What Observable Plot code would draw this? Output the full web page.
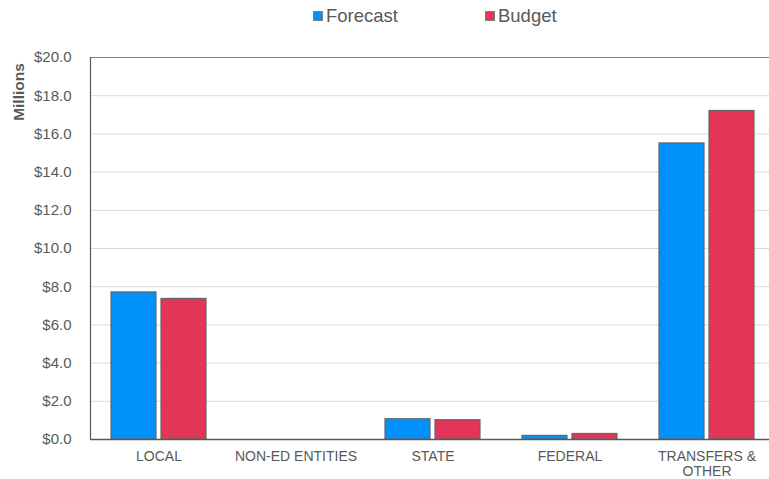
<!DOCTYPE html>
<html>
<head>
<meta charset="utf-8">
<script src="https://cdn.jsdelivr.net/npm/d3@7"></script>
<script src="https://cdn.jsdelivr.net/npm/@observablehq/plot@0.6"></script>
<style>
  body { margin: 0; background: #fff; font-family: "Liberation Sans", Arial, sans-serif; overflow: hidden; }
  #wrap { position: relative; width: 769px; height: 479px; overflow: hidden; }
  #legend { position: absolute; left: 313px; top: 5px; height: 22px; display: flex; align-items: center; font-size: 18.5px; color: #595959; }
  .item { display: flex; align-items: center; }
  .sw { width: 10px; height: 10px; margin-right: 3px; border: 1px solid #7f7f7f; box-sizing: border-box; }
  #ylabel { position: absolute; left: 19px; top: 92px; transform: translate(-50%, -50%) rotate(-90deg); font-size: 15.5px; font-weight: bold; color: #595959; white-space: nowrap; z-index: 2; }
  #chart { position: absolute; left: 0; top: 32px; width: 775px; z-index: 1; }
  #chart svg { max-width: none !important; }
</style>
</head>
<body>
<div id="wrap">
  <div id="legend"></div>
  <div id="chart"></div>
  <div id="ylabel">Millions</div>
</div>
<script>
const categories = ["LOCAL", "NON-ED ENTITIES", "STATE", "FEDERAL", "TRANSFERS & OTHER"];
const categoryLabels = ["LOCAL", "NON-ED ENTITIES", "STATE", "FEDERAL", "TRANSFERS &\nOTHER"];
const series = ["Forecast", "Budget"];
const forecast = [7.70, 0, 1.06, 0.19, 15.5];
const budget = [7.36, 0, 1.01, 0.29, 17.2];
const colors = ["#0091FA", "#E23658"];
const yTicks = [0, 2, 4, 6, 8, 10, 12, 14, 16, 18, 20];

const data = [];
categories.forEach((c, i) => {
  data.push({cat: c, series: "Forecast", value: forecast[i]});
  data.push({cat: c, series: "Budget", value: budget[i]});
});
const labelData = categories.map((c, i) => ({cat: c, label: categoryLabels[i]}));

// legend
const legend = document.getElementById("legend");
series.forEach((s, i) => {
  const it = document.createElement("div");
  it.className = "item";
  if (i > 0) it.style.marginLeft = "87px";
  it.innerHTML = `<span class="sw" style="background:${colors[i]}"></span><span>${s}</span>`;
  legend.appendChild(it);
});

const chart = Plot.plot({
  width: 775,
  height: 447,
  marginTop: 25,
  marginBottom: 40,
  marginLeft: 90,
  marginRight: 0,
  style: {fontFamily: "'Liberation Sans', Arial, sans-serif", fontSize: "15px", color: "#595959", background: "#fff", overflow: "visible", maxWidth: "none"},
  fx: {domain: categories, padding: 0, round: false, label: null, axis: null},
  x: {domain: series, axis: null, paddingInner: 0.1, paddingOuter: 0.42, round: false},
  y: {domain: [0, 20], ticks: yTicks, tickFormat: d => "$" + d.toFixed(1), tickSize: 0, tickPadding: 19, label: null},
  color: {domain: series, range: colors},
  marks: [
    Plot.gridY(yTicks.filter(t => t > 0 && t < 20), {stroke: "#d9d9d9", strokeOpacity: 1}),
    Plot.barY(data, {fx: "cat", x: "series", y: "value", fill: "series", stroke: "#666666", strokeWidth: 1.2}),
    Plot.ruleY([20], {stroke: "#7f7f7f", strokeWidth: 1.2}),
    Plot.ruleY([0], {stroke: "#595959", strokeWidth: 1.5}),
    Plot.frame({anchor: "left", stroke: "#595959", strokeWidth: 1.2, facet: "super"}),
    Plot.text(labelData, {fx: "cat", text: "label", frameAnchor: "bottom", lineAnchor: "top", dy: 11,
                          fontSize: 14, lineHeight: 1.07, fill: "#595959"})
  ]
});
document.getElementById("chart").appendChild(chart);
</script>
</body>
</html>
